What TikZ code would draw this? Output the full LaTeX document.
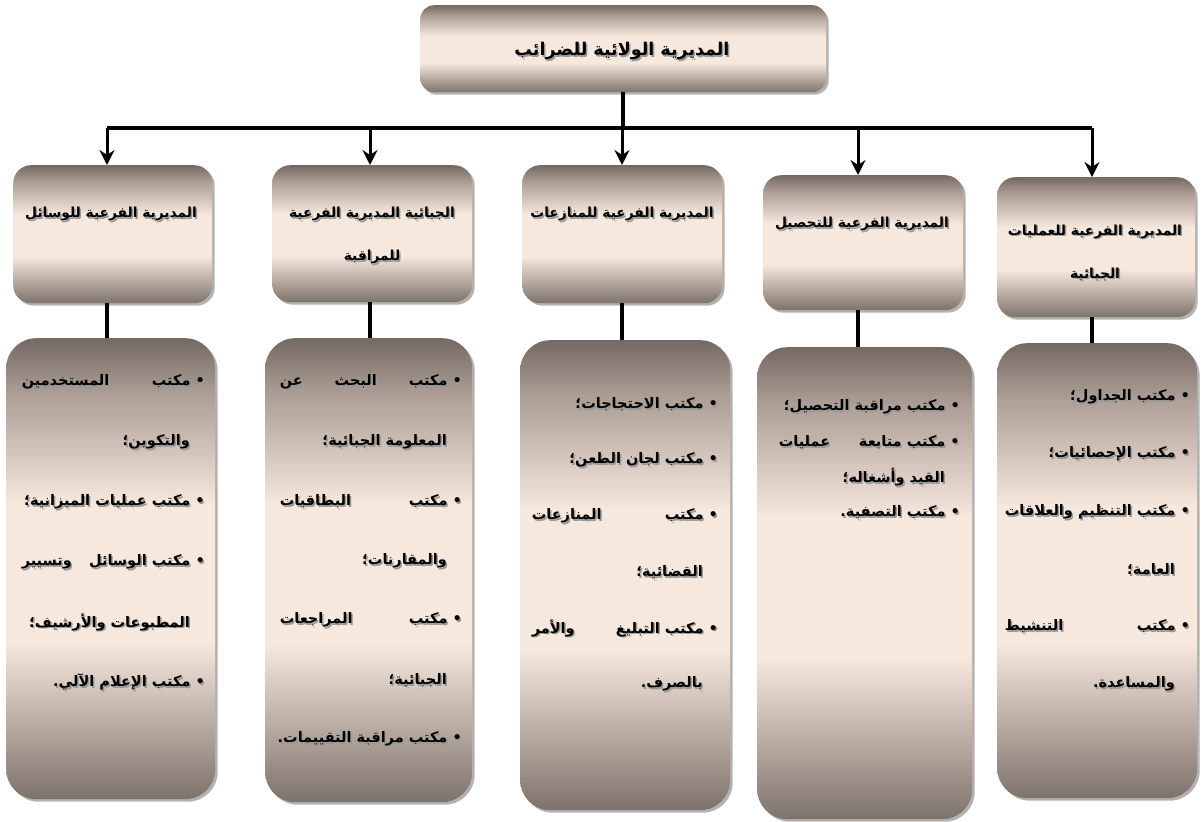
\documentclass[tikz,border=0pt]{standalone}
\usepackage{fontspec}
\setmainfont{DejaVu Sans}
\newfontfamily\arabicfont[Script=Arabic]{DejaVu Sans}
\TeXXeTstate=1
\usetikzlibrary{shadows,arrows.meta}

\definecolor{ptop}{RGB}{116,105,99}
\definecolor{pupper}{RGB}{172,158,149}
\definecolor{pmid}{RGB}{246,232,221}
\definecolor{pbot}{RGB}{126,115,108}
\pgfdeclareverticalshading{panelshade}{100bp}{color(0bp)=(pbot); color(25bp)=(pbot); color(42bp)=(pmid); color(57bp)=(pmid); color(69bp)=(pupper); color(75bp)=(ptop); color(100bp)=(ptop)}

% text with a soft grey shadow
\newcommand\shd[1]{\leavevmode\rlap{\kern1.5pt\lower1.5pt\hbox{\color{black!40}#1}}#1}

\tikzset{
  x=1pt, y=-1pt,
  panel/.style={shape=rectangle, rounded corners=#1, shading=panelshade, draw=none, inner sep=0pt,
    drop shadow={shadow xshift=2.5pt, shadow yshift=-2.5pt, opacity=.3, fill=black}},
  headtxt/.style={font=\arabicfont\bfseries\fontsize{13.8}{43}\selectfont, align=center, inner sep=0pt},
  toptxt/.style={font=\arabicfont\bfseries\fontsize{17.5}{20}\selectfont, inner sep=0pt},
  bodytxt/.style={font=\arabicfont\bfseries\fontsize{14.5}{17}\selectfont, inner sep=0pt, anchor=east},
  bus/.style={line width=3.5pt, draw=black},
  arr/.style={line width=3pt, draw=black, -{Stealth[length=15pt, width=15pt, inset=5pt]}},
  link/.style={line width=3.5pt, draw=black},
}

\begin{document}
\begin{tikzpicture}
\useasboundingbox (0,0) rectangle (1203,822);
\fill[white] (0,0) rectangle (1203,822);

% ---------- panels ----------
\node[panel=14pt, minimum width=406pt, minimum height=87pt, anchor=north west] (top) at (420,5) {};

\node[panel=18pt, minimum width=199pt, minimum height=138pt, anchor=north west] (h1) at (13,165) {};
\node[panel=18pt, minimum width=200pt, minimum height=137pt, anchor=north west] (h2) at (272,165) {};
\node[panel=18pt, minimum width=200pt, minimum height=138pt, anchor=north west] (h3) at (522,165) {};
\node[panel=18pt, minimum width=200pt, minimum height=135pt, anchor=north west] (h4) at (763,175) {};
\node[panel=18pt, minimum width=198pt, minimum height=140pt, anchor=north west] (h5) at (997,177) {};

\node[panel=30pt, minimum width=209pt, minimum height=461pt, anchor=north west] (b1) at (6,338) {};
\node[panel=30pt, minimum width=207pt, minimum height=464pt, anchor=north west] (b2) at (265,338) {};
\node[panel=30pt, minimum width=210pt, minimum height=470pt, anchor=north west] (b3) at (520,340) {};
\node[panel=30pt, minimum width=215pt, minimum height=472pt, anchor=north west] (b4) at (757,347) {};
\node[panel=30pt, minimum width=200pt, minimum height=455pt, anchor=north west] (b5) at (997,343) {};

% ---------- connectors ----------
\coordinate (j1) at (107,128);
\coordinate (j2) at (370,128);
\coordinate (j3) at (622,128);
\coordinate (j4) at (858,128);
\coordinate (j5) at (1092,128);

\draw[bus] (top.south) -- (top.south |- j3);
\draw[bus] (j1) -- (j5);
\foreach \i in {1,...,5}{
  \draw[arr] (j\i) -- (j\i |- h\i.north);
  \draw[link] (j\i |- h\i.south) -- (j\i |- b\i.north);
}

% ---------- titles ----------
\node[toptxt] (ttop) at (622,52) {\shd{\hbox{\beginR المديرية الولائية للضرائب\endR}}};

\node[headtxt] (th1) at (111,215) {\shd{\hbox{\beginR المديرية الفرعية للوسائل\endR}}};
\node[headtxt] (th2) at (372,236.5) {\shd{\hbox{\beginR الجبائية المديرية الفرعية\endR}}\\\shd{\hbox{\beginR للمراقبة\endR}}};
\node[headtxt] (th3) at (622,215) {\shd{\hbox{\beginR المديرية الفرعية للمنازعات\endR}}};
\node[headtxt] (th4) at (862,225) {\shd{\hbox{\beginR المديرية الفرعية للتحصيل\endR}}};
\node[headtxt] (th5) at (1095,253.5) {\shd{\hbox{\beginR المديرية الفرعية للعمليات\endR}}\\\shd{\hbox{\beginR الجبائية\endR}}};

% ---------- body 1 ----------
\node[bodytxt] (t11) at (205,383) {\shd{\hbox to 183pt{\beginR • مكتب\hfill المستخدمين\endR}}};
\node[bodytxt] (t12) at (190,443) {\shd{\hbox{\beginR والتكوين؛\endR}}};
\node[bodytxt] (t13) at (205,503) {\shd{\hbox{\beginR • مكتب عمليات الميزانية؛\endR}}};
\node[bodytxt] (t14) at (205,563) {\shd{\hbox to 183pt{\beginR • مكتب الوسائل\hfill وتسيير\endR}}};
\node[bodytxt] (t15) at (190,623) {\shd{\hbox{\beginR المطبوعات والأرشيف؛\endR}}};
\node[bodytxt] (t16) at (205,683) {\shd{\hbox{\beginR • مكتب الإعلام الآلي.\endR}}};

% ---------- body 2 ----------
\node[bodytxt] (t21) at (462,383) {\shd{\hbox to 182pt{\beginR • مكتب\hfill البحث\hfill عن\endR}}};
\node[bodytxt] (t22) at (447,443) {\shd{\hbox{\beginR المعلومة الجبائية؛\endR}}};
\node[bodytxt] (t23) at (462,502) {\shd{\hbox to 182pt{\beginR • مكتب\hfill البطاقيات\endR}}};
\node[bodytxt] (t24) at (447,562) {\shd{\hbox{\beginR والمقارنات؛\endR}}};
\node[bodytxt] (t25) at (462,621) {\shd{\hbox to 182pt{\beginR • مكتب\hfill المراجعات\endR}}};
\node[bodytxt] (t26) at (447,681) {\shd{\hbox{\beginR الجبائية؛\endR}}};
\node[bodytxt] (t27) at (462,740) {\shd{\hbox{\beginR • مكتب مراقبة التقييمات.\endR}}};

% ---------- body 3 ----------
\node[bodytxt] (t31) at (718,405) {\shd{\hbox{\beginR • مكتب الاحتجاجات؛\endR}}};
\node[bodytxt] (t32) at (718,461) {\shd{\hbox{\beginR • مكتب لجان الطعن؛\endR}}};
\node[bodytxt] (t33) at (718,517) {\shd{\hbox to 186pt{\beginR • مكتب\hfill المنازعات\endR}}};
\node[bodytxt] (t34) at (703,573) {\shd{\hbox{\beginR القضائية؛\endR}}};
\node[bodytxt] (t35) at (718,629) {\shd{\hbox to 186pt{\beginR • مكتب التبليغ\hfill والأمر\endR}}};
\node[bodytxt] (t36) at (703,685) {\shd{\hbox{\beginR بالصرف.\endR}}};

% ---------- body 4 ----------
\node[bodytxt] (t41) at (960,408) {\shd{\hbox{\beginR • مكتب مراقبة التحصيل؛\endR}}};
\node[bodytxt] (t42) at (960,443) {\shd{\hbox to 181pt{\beginR • مكتب متابعة\hfill عمليات\endR}}};
\node[bodytxt] (t43) at (945,478) {\shd{\hbox{\beginR القيد وأشغاله؛\endR}}};
\node[bodytxt] (t44) at (960,513) {\shd{\hbox{\beginR • مكتب التصفية.\endR}}};

% ---------- body 5 ----------
\node[bodytxt] (t51) at (1190,398) {\shd{\hbox{\beginR • مكتب الجداول؛\endR}}};
\node[bodytxt] (t52) at (1190,455) {\shd{\hbox{\beginR • مكتب الإحصائيات؛\endR}}};
\node[bodytxt] (t53) at (1190,513) {\shd{\hbox to 185pt{\beginR • مكتب التنظيم\hfill والعلاقات\endR}}};
\node[bodytxt] (t54) at (1175,570) {\shd{\hbox{\beginR العامة؛\endR}}};
\node[bodytxt] (t55) at (1190,627) {\shd{\hbox to 185pt{\beginR • مكتب\hfill التنشيط\endR}}};
\node[bodytxt] (t56) at (1175,685) {\shd{\hbox{\beginR والمساعدة.\endR}}};
\end{tikzpicture}
\end{document}
